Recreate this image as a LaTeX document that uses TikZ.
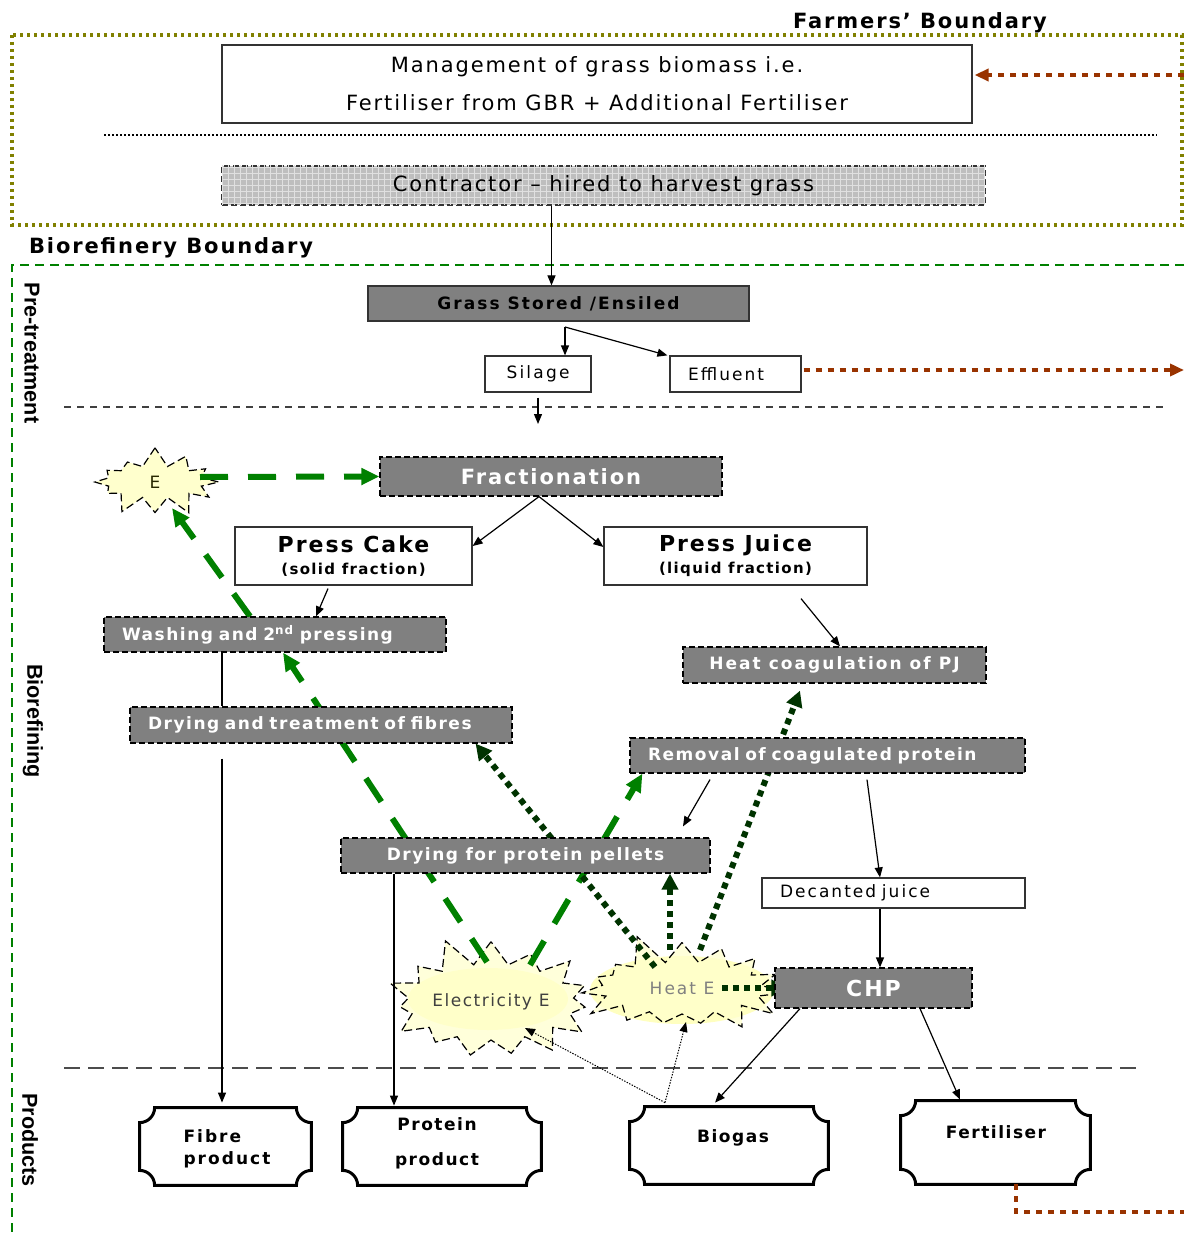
\documentclass[tikz,border=0pt]{standalone}
\usepackage{fontspec}
\setmainfont{DejaVu Sans}[LetterSpace=9]
\newfontfamily\sidefont{Liberation Sans}
\usetikzlibrary{arrows.meta,shapes.symbols,calc,patterns}
\definecolor{olivedot}{RGB}{128,128,0}
\definecolor{rust}{RGB}{153,51,0}
\definecolor{bgreen}{RGB}{0,128,0}
\definecolor{dgreen}{RGB}{0,51,0}
\definecolor{boxgray}{RGB}{128,128,128}
\definecolor{contractgray}{RGB}{190,190,190}
\definecolor{starfill}{RGB}{255,255,205}
\definecolor{glow}{RGB}{255,255,150}
\pgfdeclarelayer{back}
\pgfdeclarelayer{mid}
\pgfsetlayers{back,mid,main}

% frame with concave corners around a product node
\newcommand\plaqueof[1]{%
  \draw[plaqueline] let \p1=(#1.north west), \p2=(#1.south east) in
    (\x1+7.5pt,\y1) -- (\x2-7.5pt,\y1) arc[start angle=180,end angle=270,radius=7.5pt]
    -- (\x2,\y2+7.5pt) arc[start angle=90,end angle=180,radius=7.5pt]
    -- (\x1+7.5pt,\y2) arc[start angle=0,end angle=90,radius=7.5pt]
    -- (\x1,\y1-7.5pt) arc[start angle=270,end angle=360,radius=7.5pt] -- cycle;}
\newcommand\widerspace{\addfontfeature{LetterSpace=12}}

\begin{document}
\begin{tikzpicture}[x=0.5pt,y=-0.5pt,
  whitebox/.style={draw=black!80, fill=white, line width=0.6pt, inner sep=0pt,
    font=\fontsize{8.5}{10}\selectfont},
  procbox/.style={draw=black, dash pattern=on 3pt off 1.5pt, fill=boxgray, line width=0.6pt,
    text=white, font=\bfseries\fontsize{8.5}{10}\selectfont, inner sep=0pt},
  leftproc/.style={procbox, align=left, inner xsep=9pt},
  thinarrow/.style={line width=0.6pt, -{Triangle[length=5pt,width=4pt]}},
  greenflow/.style={bgreen, line width=3pt, dash pattern=on 14pt off 10pt,
    -{Triangle[length=9pt,width=8pt]}},
  heatflow/.style={dgreen, line width=3pt, dash pattern=on 3pt off 2.5pt,
    -{Triangle[length=8pt,width=8pt]}},
  rustflow/.style={rust, line width=2pt, dash pattern=on 3pt off 3pt},
  burst/.style={starburst, draw=black, dash pattern=on 4pt off 2pt, line width=0.6pt,
    fill=starfill, inner sep=0pt, font=\fontsize{8.5}{10}\selectfont},
  plaqueline/.style={line width=1.5pt, fill=white},
  prodlbl/.style={font=\bfseries\fontsize{8.5}{11}\selectfont},
  sidelbl/.style={rotate=-90, font=\sidefont\bfseries\fontsize{10.8}{13}\selectfont},
  boundlbl/.style={font=\bfseries\fontsize{10.5}{12}\selectfont},
]
\useasboundingbox (0,0) rectangle (1184,1235);

% ---------- boundaries ----------
\node[boundlbl] (farmlbl) at (920,23) {Farmers’ Boundary};
\draw[olivedot, line width=1.6pt, dash pattern=on 1.5pt off 2pt] (12,35) rectangle (1182,225);
\node[boundlbl, anchor=west] (biolbl) at (22,248) {Biorefinery Boundary};
\draw[bgreen, line width=1pt, dash pattern=on 4.5pt off 3pt] (1184,265) -- (12,265) -- (12,1235);

\node[sidelbl] (lblpre) at (32,353) {Pre-treatment};
\node[sidelbl] (lblref) at (33,721) {Biorefining};
\node[sidelbl] (lblprod) at (30,1140) {Products};

% ---------- separators ----------
\draw[line width=1pt, dash pattern=on 1pt off 1pt] (104,135) -- (1157,135);
\draw[black!75, line width=0.6pt, dash pattern=on 3.5pt off 3pt] (64,407) -- (1167,407);
\draw[black!70, line width=0.8pt, dash pattern=on 8pt off 4pt] (64,1068) -- (1143,1068);

% ---------- farm level ----------
\node[whitebox, minimum width=375pt, minimum height=39pt, align=center,
  font=\fontsize{10.5}{19}\selectfont] (mgmt) at (597,84)
  {Management of grass biomass i.e.\\Fertiliser from GBR + Additional Fertiliser};
\node[draw=black!80, dash pattern=on 3pt off 1.5pt, line width=0.6pt, fill=contractgray,
  postaction={pattern=grid, pattern color=black!12}, inner sep=0pt,
  minimum width=381.5pt, minimum height=19.5pt, font=\fontsize{10.5}{12}\selectfont]
  (contractor) at (603.5,185.5) {Contractor – hired to harvest grass};

% ---------- pre-treatment ----------
\node[draw=black!80, fill=boxgray, line width=0.6pt, inner sep=0pt,
  minimum width=190.5pt, minimum height=17.5pt,
  font=\bfseries\fontsize{8.5}{10}\selectfont\widerspace]
  (grass) at (558.5,303.5) {Grass Stored /Ensiled};
\node[whitebox, minimum width=53pt, minimum height=18pt,
  font=\fontsize{8.5}{10}\selectfont\addfontfeature{LetterSpace=13}] (silage) at (538,374) {Silage};
\node[whitebox, text width=47.5pt, inner xsep=9pt, align=left, minimum height=18pt,
  font=\fontsize{8.5}{10}\selectfont\widerspace] (effluent) at (735.5,374) {Effluent};
\coordinate (split) at (565,327);
\coordinate (silout) at (538,424);
\coordinate (effout) at (1184,370);
\coordinate (fertback) at (1184,75);
\coordinate (fertdown) at (1016,1212);
\coordinate (fertout) at (1184,1212);

% ---------- biorefining ----------
\node[procbox, minimum width=171pt, minimum height=19.5pt,
  font=\bfseries\fontsize{10.5}{12}\selectfont] (frac) at (551,476.5) {Fractionation};
\node[whitebox, minimum width=118.5pt, minimum height=29pt, align=center] (cake) at (353.5,556)
  {{\bfseries\fontsize{11}{12}\selectfont Press Cake}\\[1pt]{\bfseries\fontsize{7.5}{8}\selectfont (solid fraction)}};
\node[whitebox, minimum width=131.5pt, minimum height=29pt, align=center] (juice) at (735.5,556)
  {{\bfseries\fontsize{11}{12}\selectfont Press Juice}\\[1pt]{\bfseries\fontsize{7.5}{8}\selectfont (liquid fraction)}};
\node[leftproc, text width=153pt, minimum height=17.5pt] (wash) at (275,634.5)
  {Washing and 2\textsuperscript{nd} pressing};
\node[procbox, minimum width=151.5pt, minimum height=18pt,
  font=\bfseries\fontsize{8.5}{10}\selectfont\widerspace] (heatcoag) at (834.5,665)
  {Heat coagulation of PJ};
\node[leftproc, text width=173pt, minimum height=18pt] (dryfib) at (321,725)
  {Drying and treatment of fibres};
\node[leftproc, text width=179.5pt, minimum height=17.5pt] (removal) at (827.5,755.5)
  {Removal of coagulated protein};
\node[procbox, minimum width=184.5pt, minimum height=17.5pt] (dryprot) at (525.5,855.5)
  {Drying for protein pellets};
\node[whitebox, text width=113.5pt, inner xsep=9pt, align=left, minimum height=15pt,
  font=\fontsize{8.5}{10}\selectfont\widerspace]
  (decanted) at (893.5,893) {Decanted juice};
\node[procbox, minimum width=98.5pt, minimum height=20pt,
  font=\bfseries\fontsize{11}{12}\selectfont] (chp) at (873.5,988) {CHP};

% ---------- energy bursts ----------
\begin{pgfonlayer}{back}
  \fill[glow, opacity=0.6] (488,999) ellipse [x radius=80, y radius=31];
  \fill[glow, opacity=0.6] (682,990) ellipse [x radius=92, y radius=34];
  \node[burst, minimum width=68pt, minimum height=36pt, starburst points=12,
    starburst point height=10pt, random starburst=7, text=black!70!olivedot] (E) at (155,482) {E};
  \node[burst, fill opacity=0.75, text opacity=1, minimum width=76pt, minimum height=68pt,
    starburst points=15, starburst point height=15pt, random starburst=11, text=black!75,
    font=\fontsize{8.5}{10}\selectfont]
    (elecE) at (491,1002) {Electricity E};
  \node[burst, fill opacity=0.75, text opacity=1, minimum width=112pt, minimum height=58pt,
    starburst points=15, starburst point height=16pt, random starburst=5, text=black!50,
    font=\fontsize{8.5}{10}\selectfont\widerspace]
    (heatE) at (682,988) {Heat E};
\end{pgfonlayer}

% ---------- products ----------
\node[minimum width=85.5pt, minimum height=38.5pt, inner sep=0pt] (fibre) at (225.5,1146.5) {};
\node[minimum width=99pt, minimum height=38.5pt, inner sep=0pt] (protein) at (442,1146.5) {};
\node[minimum width=99pt, minimum height=38.5pt, inner sep=0pt] (biogas) at (729,1145.5) {};
\node[minimum width=94.5pt, minimum height=41.5pt, inner sep=0pt] (fert) at (995.5,1142.5) {};
\plaqueof{fibre}
\plaqueof{protein}
\plaqueof{biogas}
\plaqueof{fert}
\node[prodlbl, align=left, font=\bfseries\fontsize{8.5}{11}\selectfont\widerspace]
  (fibretxt) at (227,1149) {Fibre\\product};
\node[prodlbl, align=center] (proteintxt) at (437,1143) {Protein\\[6.5pt]product};
\node[prodlbl] (biogastxt) at (733,1138) {Biogas};
\node[prodlbl] (ferttxt) at (996,1132) {Fertiliser};

% ---------- material flows ----------
\draw[thinarrow] ([xshift=-3.5pt]grass.north |- contractor.south) -- ([xshift=-3.5pt]grass.north);
\draw[thinarrow] (split) -- (silage.north -| split);
\draw[thinarrow] (split) -- ([xshift=-1pt]effluent.north west);
\draw[thinarrow] ([yshift=-2.5pt]silage.south) -- (silout);
\draw[thinarrow] ([xshift=-6pt]frac.south) -- ([yshift=5pt]cake.east);
\draw[thinarrow] ([xshift=-6pt]frac.south) -- ([yshift=4.5pt]juice.west);
\draw[thinarrow] ([xshift=-12.75pt,yshift=-1.5pt]cake.south) -- ([xshift=20.5pt]wash.north);
\draw[thinarrow] ([xshift=32.75pt,yshift=-6.5pt]juice.south) -- ([xshift=2.75pt]heatcoag.north);
\draw[line width=0.6pt] ([xshift=-1.75pt]wash.south -| fibre.north) -- ([xshift=-1.75pt]dryfib.north -| fibre.north);
\draw[thinarrow] ([xshift=-1.75pt,yshift=-7.5pt]dryfib.south -| fibre.north) -- ([xshift=-1.75pt,yshift=2.5pt]fibre.north);
\coordinate (protin) at ([xshift=-24pt,yshift=1pt]protein.north);
\draw[thinarrow] (dryprot.south -| protin) -- (protin);
\draw[thinarrow] ([xshift=-58.75pt,yshift=-3pt]removal.south) -- ([xshift=78.75pt,yshift=5.5pt]dryprot.north);
\draw[thinarrow] ([xshift=19.75pt,yshift=-3pt]removal.south) -- ([xshift=-6.75pt]decanted.north);
\draw[thinarrow] ([xshift=-6.75pt]decanted.south) -- ([xshift=-6.75pt]decanted.south |- chp.north);
\draw[thinarrow] ([xshift=-36.75pt]chp.south) -- ([xshift=-7pt,yshift=2pt]biogas.north);
\draw[thinarrow] ([xshift=23.25pt]chp.south) -- ([xshift=-17.75pt,yshift=0.5pt]fert.north);
\draw[line width=0.5pt, dash pattern=on 0.7pt off 0.7pt, -{Triangle[length=5pt,width=4pt]}]
  ([xshift=-32pt,yshift=2pt]biogas.north) -- ([xshift=17pt,yshift=-13pt]elecE.center);
\draw[line width=0.5pt, dash pattern=on 0.7pt off 0.7pt, -{Triangle[length=5pt,width=4pt]}]
  ([xshift=-32pt,yshift=2pt]biogas.north) -- ([xshift=2pt,yshift=-17pt]heatE.center);

% nutrient return loop
\draw[rustflow, -{Triangle[length=7pt,width=6pt]}] ([xshift=1pt]effluent.east |- effout) -- (effout);
\draw[rustflow, -{Triangle[length=7pt,width=6pt]}] (fertback) -- ([xshift=1pt,yshift=4.5pt]mgmt.east);
\draw[rustflow] (fert.south -| fertdown) -- (fertdown) -- (fertout);

% ---------- energy flows ----------
\begin{pgfonlayer}{mid}
  \draw[greenflow] ([xshift=22.5pt,yshift=2.5pt]E.center) -- (frac.west);
  \draw[greenflow] ([xshift=-12.5pt]wash.north) -- ([xshift=8.5pt,yshift=-13pt]E.center);
  \draw[greenflow] ([xshift=-2pt,yshift=20pt]elecE.center) -- ([xshift=4pt]wash.south);
  \draw[greenflow] ([xshift=19.5pt,yshift=18.5pt]elecE.center) -- ([xshift=6.5pt]removal.south west);
  \draw[heatflow] ([xshift=-13.5pt,yshift=10.5pt]heatE.center) -- ([xshift=-18.5pt]dryfib.south east);
  \draw[heatflow] ([xshift=-6pt,yshift=19pt]heatE.center) -- ([xshift=-6pt]heatE.center |- dryprot.south);
  \draw[heatflow] ([xshift=9pt,yshift=19pt]heatE.center) -- ([xshift=-17.25pt,yshift=-3.5pt]heatcoag.south);
  \draw[heatflow] ([xshift=20pt]heatE.center) -- ([xshift=6.5pt]chp.west);
\end{pgfonlayer}
\end{tikzpicture}
\end{document}
